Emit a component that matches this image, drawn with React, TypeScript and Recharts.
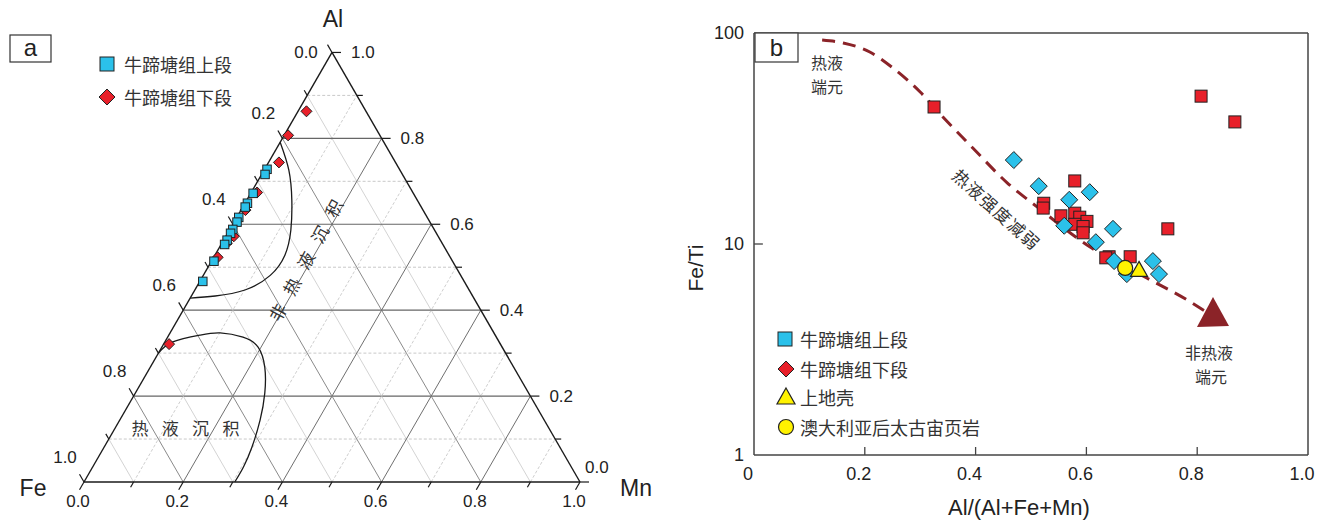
import React from "react";
import { ComposedChart, Scatter, Line, XAxis, YAxis, ReferenceLine, ReferenceDot } from "recharts";

const LATIN = '"Liberation Sans", Arial, sans-serif';
const CJK = '"Noto Sans CJK SC", "Liberation Sans", sans-serif';

const BLUE = "#2bc1ea";
const RED = "#e8202a";
const YELLOW = "#fff200";
const DARKRED = "#8b2328";

// ---- panel a: Al-Fe-Mn ternary, each point is [Al, Mn] (Fe = 1 - Al - Mn)
const upperSegA = [
  [0.728, 0.005], [0.716, 0.007], [0.672, 0.005], [0.649, 0.005], [0.64, 0.005],
  [0.616, 0.004], [0.605, 0.006], [0.588, 0.006], [0.579, 0.006], [0.563, 0.007],
  [0.553, 0.007], [0.514, 0.005], [0.467, 0.006],
];
const lowerSegA = [
  [0.863, 0.017], [0.807, 0.008], [0.744, 0.021], [0.674, 0.012], [0.633, 0.009],
  [0.572, 0.016], [0.556, 0.01], [0.523, 0.008], [0.321, 0.011],
];
const nonHydroBoundary = [
  [0.791, 0], [0.726, 0.05], [0.656, 0.091], [0.586, 0.124], [0.528, 0.141],
  [0.481, 0.135], [0.447, 0.101], [0.433, 0.048], [0.428, 0],
];
const hydroBoundary = [
  [0.3, 0], [0.326, 0.016], [0.342, 0.063], [0.347, 0.101], [0.337, 0.152], [0.314, 0.194],
  [0.267, 0.231], [0.207, 0.261], [0.144, 0.283], [0.081, 0.298], [0.035, 0.304], [0, 0.304],
];
const ternTicks = [0, 0.1, 0.2, 0.3, 0.4, 0.5, 0.6, 0.7, 0.8, 0.9, 1];
const ternLabels = [0, 0.2, 0.4, 0.6, 0.8, 1];

// ---- panel b: [Al/(Al+Fe+Mn), Fe/Ti]
const upperSegB = [
  [0.469, 25.0], [0.514, 18.8], [0.569, 16.2], [0.606, 17.6], [0.56, 12.2], [0.648, 11.8],
  [0.617, 10.2], [0.65, 8.3], [0.673, 7.2], [0.72, 8.3], [0.731, 7.2],
];
const lowerSegB = [
  [0.325, 44.6], [0.807, 50.2], [0.868, 37.9], [0.747, 11.8], [0.579, 19.9], [0.523, 15.6],
  [0.522, 14.8], [0.554, 13.6], [0.579, 14.0], [0.588, 13.4], [0.601, 12.8], [0.579, 12.4],
  [0.594, 12.1], [0.594, 11.3], [0.641, 8.7], [0.635, 8.6], [0.679, 8.7],
];
const upperCrust = [[0.695, 7.5]];
const paas = [[0.67, 7.7]];
const trend = [
  [0.123, 92.6], [0.161, 89.7], [0.209, 81.3], [0.251, 68.2], [0.3, 52.5], [0.341, 40.0],
  [0.395, 28.5], [0.457, 19.5], [0.511, 15.0], [0.606, 9.7], [0.709, 6.9], [0.782, 5.43],
  [0.814, 4.81],
];
const trendEnd = [[0.8285, 4.56]];
const xTicksB = [0, 0.2, 0.4, 0.6, 0.8, 1];
const yTicksB = [1, 10, 100];

const SQ = Math.sqrt(3) / 2;
const PX = 496; // pixels per ternary unit
const tern = (al: number, mn: number) => ({ x: mn + al / 2, y: al * SQ });
const pts = (arr: number[][]) => arr.map(([a, b]) => ({ x: a, y: b }));
const ternPts = (arr: number[][]) => arr.map(([al, mn]) => tern(al, mn));

const squareShape = (size: number, fill: string) => (p: any) => (
  <rect x={p.cx - size / 2} y={p.cy - size / 2} width={size} height={size} fill={fill} stroke="#222" strokeWidth={1} />
);
const diamondShape = (h: number, fill: string) => (p: any) => (
  <polygon
    points={`${p.cx},${p.cy - h} ${p.cx + h},${p.cy} ${p.cx},${p.cy + h} ${p.cx - h},${p.cy}`}
    fill={fill}
    stroke="#222"
    strokeWidth={1}
  />
);
const circleShape = (r: number, fill: string) => (p: any) => (
  <circle cx={p.cx} cy={p.cy} r={r} fill={fill} stroke="#222" strokeWidth={1.2} />
);
const triShape = (p: any) => (
  <polygon points={`${p.cx},${p.cy - 9} ${p.cx + 8.5},${p.cy + 6} ${p.cx - 8.5},${p.cy + 6}`} fill={YELLOW} stroke="#222" strokeWidth={1.2} />
);
const arrowShape = (p: any) => (
  <polygon points={`${p.cx},${p.cy - 19} ${p.cx + 16},${p.cy + 10} ${p.cx - 16},${p.cy + 11}`} fill={DARKRED} />
);
const txt = (label: string, dx: number, dy: number, anchor: string, size: number) => (p: any) => (
  <text x={p.cx + dx} y={p.cy + dy} textAnchor={anchor} dominantBaseline="central" fontSize={size} fontFamily={LATIN} fill="#222">
    {label}
  </text>
);

const fmt = (v: number) => v.toFixed(1);

function Ternary() {
  const inner = ternTicks.filter((v) => v > 0 && v < 1);
  const grid = inner.flatMap((v) => {
    const major = Math.round(v * 10) % 2 === 0;
    return [
      { k: "al" + v, seg: [tern(v, 0), tern(v, 1 - v)], stroke: major ? "#666" : "#bbb", w: major ? 1.2 : 0.8, dash: major ? undefined : "3 2" },
      { k: "mn" + v, seg: [tern(0, v), tern(1 - v, v)], stroke: major ? "#6f6f6f" : "#c2c2c2", w: major ? 1 : 0.8, dash: major ? undefined : "3 2" },
      { k: "fe" + v, seg: [tern(0, 1 - v), tern(1 - v, 0)], stroke: major ? "#8a8a8a" : "#c8c8c8", w: major ? 1 : 0.8, dash: undefined },
    ];
  });
  const edges = [
    [tern(0, 0), tern(0, 1)],
    [tern(0, 0), tern(1, 0)],
    [tern(1, 0), tern(0, 1)],
  ];
  const ticks = ternTicks.flatMap((v) => {
    const L = (Math.round(v * 10) % 2 === 0 ? 9 : 6) / PX;
    const l = tern(1 - v, 0);
    const r = tern(v, 1 - v);
    const b = tern(0, v);
    return [
      { k: "tl" + v, seg: [l, { x: l.x - 0.5 * L, y: l.y + SQ * L }] },
      { k: "tr" + v, seg: [r, { x: r.x + L, y: r.y }] },
      { k: "tb" + v, seg: [b, { x: b.x - 0.5 * L, y: b.y - SQ * L }] },
    ];
  });

  return (
    <ComposedChart width={660} height={522} margin={{ top: 0, right: 0, bottom: 0, left: 0 }}>
      <XAxis type="number" dataKey="x" domain={[-84 / PX, 576 / PX]} allowDataOverflow hide />
      <YAxis type="number" dataKey="y" domain={[-40 / PX, 482 / PX]} allowDataOverflow hide />
      {grid.map((g) => (
        <ReferenceLine key={g.k} segment={g.seg} stroke={g.stroke} strokeWidth={g.w} strokeDasharray={g.dash} ifOverflow="visible" />
      ))}
      {edges.map((s, i) => (
        <ReferenceLine key={"e" + i} segment={s} stroke="#1a1a1a" strokeWidth={1.4} ifOverflow="visible" />
      ))}
      {ticks.map((t) => (
        <ReferenceLine key={t.k} segment={t.seg} stroke="#1a1a1a" strokeWidth={1.2} ifOverflow="visible" />
      ))}
      {ternLabels.map((v) => {
        const p = tern(1 - v, 0);
        return (
          <ReferenceDot key={"ll" + v} x={p.x} y={p.y} r={0} ifOverflow="visible"
            shape={v === 0 ? txt(fmt(v), -26, 0, "middle", 17) : txt(fmt(v), -19, -25, "middle", 17)} />
        );
      })}
      {ternLabels.map((v) => {
        const p = tern(v, 1 - v);
        return (
          <ReferenceDot key={"rl" + v} x={p.x} y={p.y} r={0} ifOverflow="visible"
            shape={v === 0 ? txt(fmt(v), 5, -15, "start", 17) : txt(fmt(v), 19, 0, "start", 17)} />
        );
      })}
      {ternLabels.map((v) => {
        const p = tern(0, v);
        return <ReferenceDot key={"bl" + v} x={p.x} y={p.y} r={0} ifOverflow="visible" shape={txt(fmt(v), -6, 19, "middle", 17)} />;
      })}
      <ReferenceDot x={tern(1, 0).x} y={tern(1, 0).y} r={0} ifOverflow="visible" shape={txt("Al", 1, -33, "middle", 23)} />
      <ReferenceDot x={0} y={0} r={0} ifOverflow="visible" shape={txt("Fe", -51, 6, "middle", 23)} />
      <ReferenceDot x={1} y={0} r={0} ifOverflow="visible" shape={txt("Mn", 56, 6, "middle", 23)} />
      <Line data={ternPts(nonHydroBoundary)} dataKey="y" type="natural" stroke="#1a1a1a" strokeWidth={1.3} dot={false} activeDot={false} isAnimationActive={false} />
      <Line data={ternPts(hydroBoundary)} dataKey="y" type="natural" stroke="#1a1a1a" strokeWidth={1.3} dot={false} activeDot={false} isAnimationActive={false} />
      <Scatter name="牛蹄塘组下段" data={ternPts(lowerSegA)} shape={diamondShape(5.5, RED)} isAnimationActive={false} />
      <Scatter name="牛蹄塘组上段" data={ternPts(upperSegA)} shape={squareShape(8.5, BLUE)} isAnimationActive={false} />
    </ComposedChart>
  );
}

const XTickB = (p: any) => (
  <text x={p.x - 6} y={p.y + 17} textAnchor="middle" fontSize={18} fontFamily={LATIN} fill="#222">
    {p.payload.value === 0 ? "0" : p.payload.value.toFixed(1)}
  </text>
);
const YTickB = (p: any) => (
  <text x={p.x - 2} y={p.y + 6} textAnchor="end" fontSize={18} fontFamily={LATIN} fill="#222">
    {String(p.payload.value)}
  </text>
);

function FeTiPlot() {
  const tickUp = Math.pow(10, 8 / 211);
  return (
    <ComposedChart width={667} height={522} margin={{ top: 33, right: 19, bottom: 37, left: 54 }}>
      <XAxis type="number" dataKey="x" domain={[0, 1]} ticks={xTicksB} interval={0} allowDataOverflow height={30}
        tickLine={false} axisLine={{ stroke: "#444", strokeWidth: 1.5 }} tick={XTickB} />
      <YAxis type="number" dataKey="y" scale="log" domain={[1, 100]} ticks={yTicksB} interval={0} allowDataOverflow width={40}
        tickLine={false} axisLine={{ stroke: "#444", strokeWidth: 1.5 }} tick={YTickB} />
      <ReferenceLine y={100} stroke="#444" strokeWidth={1.5} ifOverflow="visible" />
      <ReferenceLine x={1} stroke="#444" strokeWidth={1.5} ifOverflow="visible" />
      {xTicksB.filter((t) => t > 0 && t < 1).map((t) => (
        <ReferenceLine key={"xt" + t} segment={[{ x: t, y: 1 }, { x: t, y: tickUp }]} stroke="#444" strokeWidth={1.3} ifOverflow="visible" />
      ))}
      <ReferenceLine segment={[{ x: 0, y: 10 }, { x: 0.016, y: 10 }]} stroke="#444" strokeWidth={1.3} ifOverflow="visible" />
      <Line data={pts(trend)} dataKey="y" type="monotone" stroke={DARKRED} strokeWidth={3} strokeDasharray="13 8" dot={false} activeDot={false} isAnimationActive={false} />
      <Scatter data={pts(trendEnd)} shape={arrowShape} isAnimationActive={false} />
      <Scatter name="牛蹄塘组下段" data={pts(lowerSegB)} shape={squareShape(12, RED)} isAnimationActive={false} />
      <Scatter name="牛蹄塘组上段" data={pts(upperSegB)} shape={diamondShape(8.5, BLUE)} isAnimationActive={false} />
      <Scatter name="澳大利亚后太古宙页岩" data={pts(paas)} shape={circleShape(7.5, YELLOW)} isAnimationActive={false} />
      <Scatter name="上地壳" data={pts(upperCrust)} shape={triShape} isAnimationActive={false} />
    </ComposedChart>
  );
}

function Annotations() {
  const cjk = { fontFamily: CJK, fill: "#333", dominantBaseline: "central" as const };
  const hydroChars = ["热", "液", "沉", "积"];
  const nonHydroChars = ["非", "热", "液", "沉", "积"];
  return (
    <svg width={1327} height={522} style={{ position: "absolute", left: 0, top: 0, pointerEvents: "none" }}>
      {/* panel a */}
      <rect x={10} y={35} width={41} height={27} fill="#fff" stroke="#333" strokeWidth={1.2} />
      <text x={30.5} y={47} textAnchor="middle" dominantBaseline="central" fontSize={24} fontFamily={LATIN} fill="#222">a</text>
      <rect x={100} y={57} width={14} height={14} fill={BLUE} stroke="#222" strokeWidth={1} />
      <text x={124} y={64} fontSize={18} {...cjk}>牛蹄塘组上段</text>
      <polygon points="107,89 115,97 107,105 99,97" fill={RED} stroke="#222" strokeWidth={1} />
      <text x={124} y={97} fontSize={18} {...cjk}>牛蹄塘组下段</text>
      {hydroChars.map((c, i) => (
        <text key={"h" + i} x={140 + i * 30.3} y={427} textAnchor="middle" fontSize={17} {...cjk}>{c}</text>
      ))}
      {nonHydroChars.map((c, i) => (
        <text key={"n" + i} transform={`translate(${277 + i * 14},${312 - i * 26}) rotate(-62)`} textAnchor="middle" fontSize={17} {...cjk}>{c}</text>
      ))}

      {/* panel b */}
      <rect x={755} y={33} width={43} height={29} fill="#fff" stroke="#444" strokeWidth={1.3} />
      <text x={776.5} y={47} textAnchor="middle" dominantBaseline="central" fontSize={24} fontFamily={LATIN} fill="#222">b</text>
      <text x={827} y={62} textAnchor="middle" fontSize={16} {...cjk}>热液</text>
      <text x={827} y={86} textAnchor="middle" fontSize={16} {...cjk}>端元</text>
      <text transform="translate(997,209) rotate(42)" textAnchor="middle" fontSize={17} letterSpacing={1.5} {...cjk}>热液强度减弱</text>
      <text x={1209} y={352} textAnchor="middle" fontSize={16} {...cjk}>非热液</text>
      <text x={1211} y={376} textAnchor="middle" fontSize={16} {...cjk}>端元</text>

      <rect x={778} y={332} width={14} height={14} fill={BLUE} stroke="#222" strokeWidth={1} />
      <text x={800} y={339} fontSize={18} {...cjk}>牛蹄塘组上段</text>
      <polygon points="786,361 794,369 786,377 778,369" fill={RED} stroke="#222" strokeWidth={1} />
      <text x={800} y={369} fontSize={18} {...cjk}>牛蹄塘组下段</text>
      <polygon points="786,388 795,404 777,404" fill={YELLOW} stroke="#222" strokeWidth={1.2} />
      <text x={800} y={397} fontSize={18} {...cjk}>上地壳</text>
      <circle cx={786} cy={427} r={7.5} fill={YELLOW} stroke="#222" strokeWidth={1.2} />
      <text x={800} y={427} fontSize={18} {...cjk}>澳大利亚后太古宙页岩</text>

      <text transform="translate(695,268) rotate(-90)" textAnchor="middle" dominantBaseline="central" fontSize={21} fontFamily={LATIN} fill="#222">Fe/Ti</text>
      <text x={1019} y={507} textAnchor="middle" dominantBaseline="central" fontSize={22} fontFamily={LATIN} fill="#222">Al/(Al+Fe+Mn)</text>
    </svg>
  );
}

export default function App() {
  return (
    <div style={{ position: "absolute", left: 0, top: 0, width: 1327, height: 522, background: "#fff" }}>
      <div style={{ position: "absolute", left: 0, top: 0 }}>
        <Ternary />
      </div>
      <div style={{ position: "absolute", left: 660, top: 0 }}>
        <FeTiPlot />
      </div>
      <Annotations />
    </div>
  );
}
